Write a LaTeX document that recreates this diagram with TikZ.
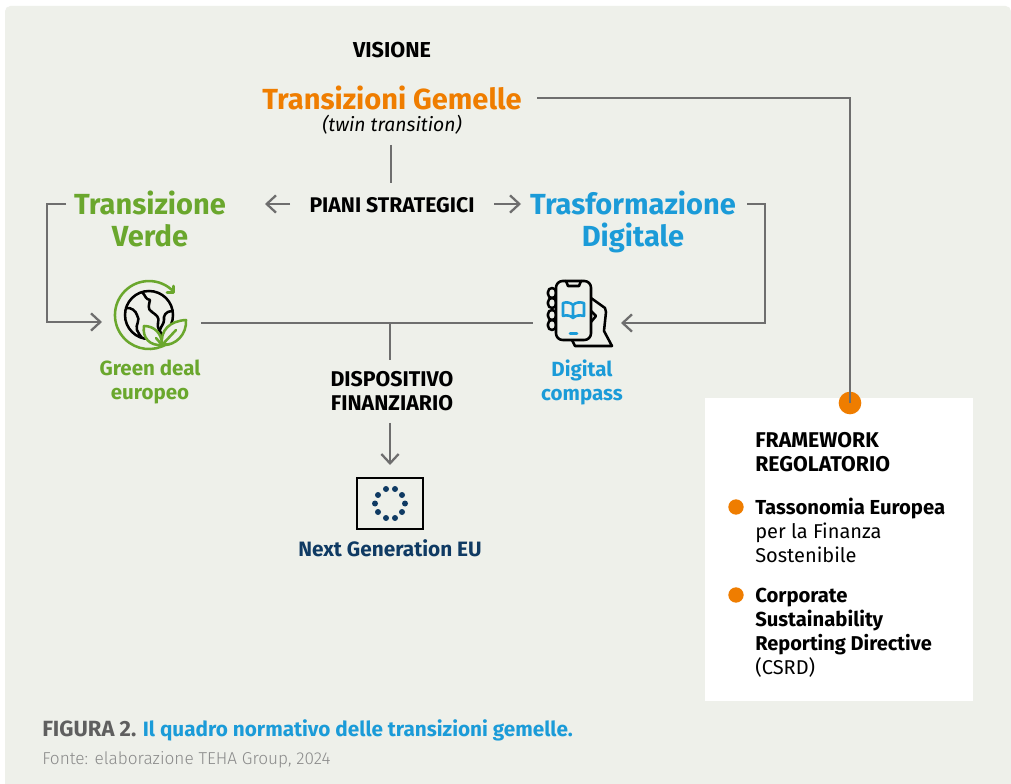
\documentclass[tikz,border=0pt]{standalone}
\usepackage{fontspec}
\setmainfont{Fira Sans}
\newfontfamily\lightf{Fira Sans Light}
\usetikzlibrary{arrows.meta}
\definecolor{panel}{HTML}{EEF0EA}
\definecolor{linegray}{HTML}{6E6E6E}
\definecolor{orangeT}{HTML}{EF7D00}
\definecolor{greenT}{HTML}{6AA72D}
\definecolor{blueT}{HTML}{1B9BD8}
\definecolor{navyT}{HTML}{0F3A63}
\definecolor{capgray}{HTML}{5F5F5F}
\definecolor{srcgray}{HTML}{8A8A8A}
\newcommand{\fs}[1]{\fontsize{#1}{#1}\selectfont}
\tikzset{
 txt/.style={inner sep=0pt,outer sep=3pt,anchor=base,align=center,yshift=-1.1pt},
 ltxt/.style={inner sep=0pt,anchor=base west,align=left,yshift=-1.1pt},
 bigtitle/.style={txt,font=\fs{21.8pt}\bfseries},
 lbl/.style={txt,font=\fs{15.4pt}\bfseries},
 boxtxt/.style={ltxt,font=\fs{15pt},text=black},
 conn/.style={draw=linegray,line width=1.9pt},
 arr/.style={conn,-{Straight Barb[length=7pt,width=13pt,line width=1.7pt]}},
 icon/.style={draw=black,line width=1.9pt,line join=round,line cap=round},
 gicon/.style={draw=greenT,line width=1.9pt,line join=round,line cap=round},
 bullet/.style={circle,fill=orangeT,inner sep=0pt,minimum size=11.5pt},
}
\begin{document}
\begin{tikzpicture}[x=0.75pt,y=-0.75pt]
\useasboundingbox (0,0) rectangle (1011,784);
\fill[white] (0,0) rectangle (1011,784);
\fill[panel,rounded corners=4pt] (5,6) rectangle (1011,790);
\fill[white] (705,398) rectangle (973,701);

% titles
\node[lbl,font=\fs{16.2pt}\bfseries] (vis) at (392,56) {VISIONE};
\node[bigtitle,text=orangeT] (tg) at (392,108) {Transizioni Gemelle};
\node[txt,font=\fs{14.5pt}\itshape] (twin) at (392,130) {(twin transition)};
\coordinate (twinb) at (391,145);
\node[lbl,font=\fs{15.9pt}\bfseries] (piani) at (392,211) {PIANI STRATEGICI};
\node[bigtitle,text=greenT] (tv1) at (150,213) {Transizione};
\node[bigtitle,text=greenT] (tv2) at (150,245) {Verde};
\node[bigtitle,text=blueT] (td1) at (633,213) {Trasformazione};
\node[bigtitle,text=blueT] (td2) at (633,245) {Digitale};
\node[lbl,text=greenT] (gd1) at (150,374) {Green deal};
\node[lbl,text=greenT] (gd2) at (150,398) {europeo};
\node[lbl,text=blueT] (dc1) at (582,375) {Digital};
\node[lbl,text=blueT] (dc2) at (582,399) {compass};
\node[lbl,font=\fs{16pt}\bfseries] (df1) at (392,385) {DISPOSITIVO};
\node[lbl,font=\fs{16pt}\bfseries] (df2) at (392,409) {FINANZIARIO};
\node[lbl,font=\fs{15.6pt}\bfseries,text=navyT] (ng) at (390,555) {Next Generation EU};

% anchors for connectors
\node[bullet,minimum size=17pt] (fdot) at (850,403) {};
\coordinate (tgr) at (537,98);
\coordinate (c1) at (850,98);
\coordinate (pl) at (290,204);
\coordinate (pla) at (265,204);
\coordinate (pr) at (494,204);
\coordinate (pra) at (521,204);
\coordinate (pt) at (391,183);
\coordinate (vl) at (66,204);
\coordinate (vc1) at (47,204);
\coordinate (vc2) at (47,322);
\coordinate (ga) at (102,322);
\coordinate (dr) at (747,204);
\coordinate (dc1c) at (765,204);
\coordinate (dc2c) at (765,323);
\coordinate (pa) at (621,323);
\coordinate (gl) at (201,323);
\coordinate (pb) at (533,323);
\coordinate (mj) at (390,323);
\coordinate (mb) at (390,360);
\coordinate (dfb) at (390,423);
\coordinate (fl) at (390,465);

% connectors
\draw[conn] (tgr) -- (c1) -- (fdot.center);
\draw[conn] (twinb) -- (pt);
\draw[arr] (pl) -- (pla);
\draw[arr] (pr) -- (pra);
\draw[arr] (vl) -- (vc1) -- (vc2) -- (ga);
\draw[arr] (dr) -- (dc1c) -- (dc2c) -- (pa);
\draw[conn] (gl) -- (pb);
\draw[conn] (mj) -- (mb);
\draw[arr] (dfb) -- (fl);

% globe icon
\draw[icon] (149,315) circle (24);
\draw[icon] (142,292) .. controls (146,296) and (145,299) .. (150,300) .. controls (149,305) and (147,309) .. (152,312) .. controls (156,315) and (160,317) .. (158,323) .. controls (157,328) and (160,332) .. (163,335);
\draw[icon] (126,308) .. controls (131,307) and (136,311) .. (137,315) .. controls (141,320) and (135,325) .. (137,330) .. controls (138,333) and (140,335) .. (142,338);
\draw[icon] (172,311) .. controls (166,311) and (163,316) .. (164,320) .. controls (164,324) and (161,326) .. (160,330);
\draw[gicon] (173,291) arc[start angle=-45,end angle=-302,radius=34];
\draw[gicon] (167,292.5) -- (173.5,292.5) -- (173.5,286);
\draw[gicon,fill=panel] (162,345) .. controls (150,346) and (142,338) .. (144,326) .. controls (154,326) and (162,333) .. (162,345) -- cycle;
\draw[gicon,fill=panel] (162,345) .. controls (160,330) and (170,321) .. (186,320) .. controls (187,334) and (176,346) .. (162,345) -- cycle;
\draw[gicon] (162,345) -- (176,330) (156,338) -- (162,345) -- (170,344);

% phone icon
\foreach \yy in {293,303,315,325}{
 \draw[icon,fill=panel,rounded corners=3pt] (553,\yy) ++(-5,-5) rectangle ++(8,10);
}
\draw[icon,fill=panel] (591,298) -- (605,308) -- (606,312) -- (604,331) -- (612,346) -- (575,346) -- (572,340);
\draw[icon,fill=panel,rounded corners=5pt] (556,281) rectangle (591,340);
\draw[icon] (566,281) -- (568,286) -- (579,286) -- (581,281);
\draw[icon] (591,311) -- (596,316) -- (591,322);
\draw[draw=blueT,line width=1.9pt,line join=round] (573,305) .. controls (570,302) and (566,302) .. (563,303) -- (563,316) .. controls (566,315) and (570,315) .. (573,318) .. controls (576,315) and (580,315) .. (584,316) -- (584,303) .. controls (580,302) and (576,302) .. (573,305) -- (573,318);
\draw[draw=blueT,line width=1.9pt,line cap=round] (570,333.5) -- (577,333.5);

% flag
\draw[draw=black,line width=2.2pt,line join=miter] (357,478) rectangle (423,529);
\foreach \xx/\yy in {386/489,395/489,378/495,402/495,375/503.5,405/503.5,378/512,402/512,386/518,395/518}{
 \fill[navyT] (\xx,\yy) circle (3);
}

% framework box text
\node[ltxt,font=\fs{16pt}\bfseries] (fw1) at (755,446) {FRAMEWORK};
\node[ltxt,font=\fs{16pt}\bfseries] (fw2) at (755,470) {REGOLATORIO};
\node[bullet] (b1) at (736,507) {};
\node[boxtxt,font=\fs{15.2pt}\bfseries] (t1) at (755,513) {Tassonomia Europea};
\node[boxtxt] (t2) at (755,537) {per la Finanza};
\node[boxtxt] (t3) at (755,561) {Sostenibile};
\node[bullet] (b2) at (736,595) {};
\node[boxtxt,font=\fs{15.2pt}\bfseries] (c1t) at (755,601) {Corporate};
\node[boxtxt,font=\fs{15.2pt}\bfseries] (c2t) at (755,625) {Sustainability};
\node[boxtxt,font=\fs{15pt}\bfseries] (c3t) at (755,649) {Reporting Directive};
\node[boxtxt] (c4t) at (755,673) {(CSRD)};

% caption
\node[ltxt,font=\fs{15.55pt}\bfseries] (cap) at (42,735) {\textcolor{capgray}{\fs{16.5pt}FIGURA 2.} \textcolor{blueT}{Il quadro normativo delle transizioni gemelle.}};
\node[ltxt,font=\fs{12.9pt}\lightf,text=srcgray] (src) at (42,763) {Fonte: elaborazione TEHA Group, 2024};
\end{tikzpicture}
\end{document}
